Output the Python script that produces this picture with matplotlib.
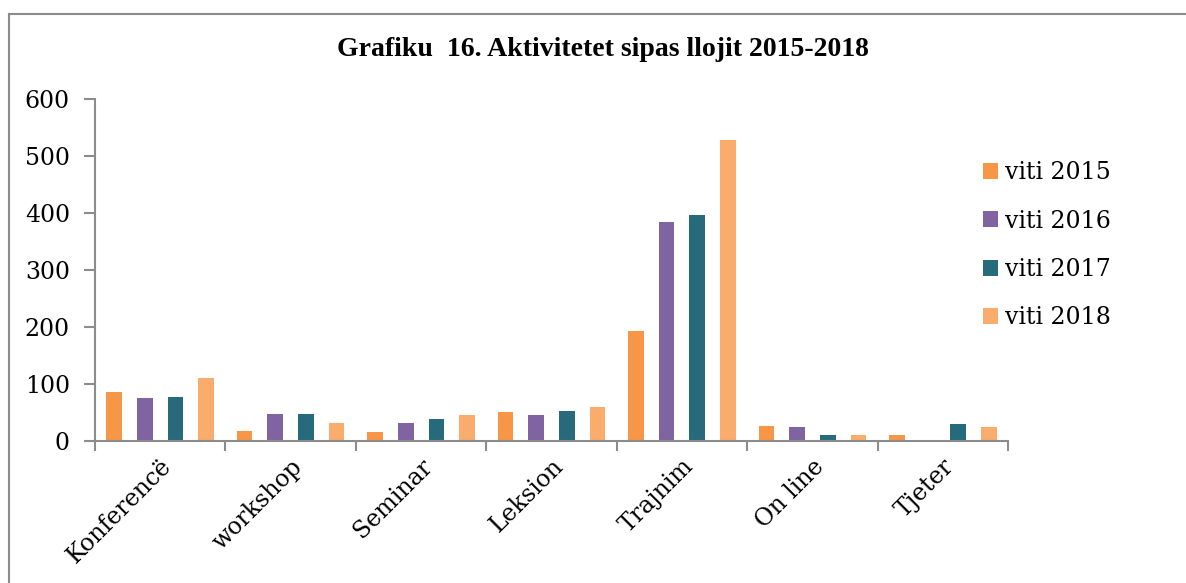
import matplotlib
matplotlib.use("Agg")
import matplotlib.pyplot as plt
import numpy as np
from matplotlib.lines import Line2D

categories = ["Konferencë", "workshop", "Seminar", "Leksion", "Trajnim", "On line", "Tjeter"]
series_labels = ["viti 2015", "viti 2016", "viti 2017", "viti 2018"]
v2015 = [86, 17, 15, 51, 193, 27, 11]
v2016 = [75, 47, 31, 45, 385, 25, 0]
v2017 = [77, 47, 39, 53, 396, 11, 29]
v2018 = [111, 32, 45, 60, 528, 10, 24]
yticks = [0, 100, 200, 300, 400, 500, 600]
title = "Grafiku  16. Aktivitetet sipas llojit 2015-2018"

colors = ["#F79646", "#8064A2", "#276A7C", "#FAAC6C"]
series = [v2015, v2016, v2017, v2018]

fig = plt.figure(figsize=(11.86, 5.83), dpi=100)
ax = fig.add_axes([95/1186, 142/583, 913/1186, 342/583])

x = np.arange(len(categories))
pitch = 0.235
width = 0.12
for i, (vals, c, lab) in enumerate(zip(series, colors, series_labels)):
    ax.bar(x + (i - 1.5) * pitch, vals, width=width, color=c, label=lab, linewidth=0)

ax.set_xlim(-0.5, len(categories) - 0.5)
ax.set_ylim(0, 600)
ax.set_yticks(yticks)
ax.set_yticklabels([str(t) for t in yticks])

ax.set_xticks(np.arange(len(categories) + 1) - 0.5)
ax.set_xticklabels([])
ax.set_xticks(x, minor=True)
ax.set_xticklabels(categories, minor=True, rotation=45, ha="right",
                   rotation_mode="anchor", fontfamily="DejaVu Serif", fontsize=17)
ax.tick_params(axis="x", which="minor", length=0, pad=10)
ax.tick_params(axis="x", which="major", length=7, width=1.5, color="#8c8c8c", direction="out")
ax.tick_params(axis="y", length=8, width=1.5, color="#8c8c8c", direction="out", pad=10)
for lab in ax.get_yticklabels():
    lab.set_fontfamily("DejaVu Serif")
    lab.set_fontsize(17)

for s in ["top", "right"]:
    ax.spines[s].set_visible(False)
for s in ["left", "bottom"]:
    ax.spines[s].set_color("#8c8c8c")
    ax.spines[s].set_linewidth(1.5)

fig.text(603/1186, 1 - 50/583, title, ha="center", va="center",
         fontfamily="Liberation Serif", fontweight="bold", fontsize=20)

leg = ax.legend(loc="upper left", bbox_to_anchor=(983/1186, 1 - 161/583),
                bbox_transform=fig.transFigure, frameon=False,
                prop={"family": "DejaVu Serif", "size": 17},
                handlelength=0.65, handleheight=0.65, handletextpad=0.3,
                labelspacing=1.08, borderpad=0, borderaxespad=0)

fig.add_artist(Line2D([8.5/1186, 8.5/1186], [0, 1 - 14/583], transform=fig.transFigure,
                      color="#8c8c8c", linewidth=1.5))
fig.add_artist(Line2D([8.5/1186, 1], [1 - 14/583, 1 - 14/583], transform=fig.transFigure,
                      color="#8c8c8c", linewidth=1.5))

fig.savefig("out.png", dpi=100)
